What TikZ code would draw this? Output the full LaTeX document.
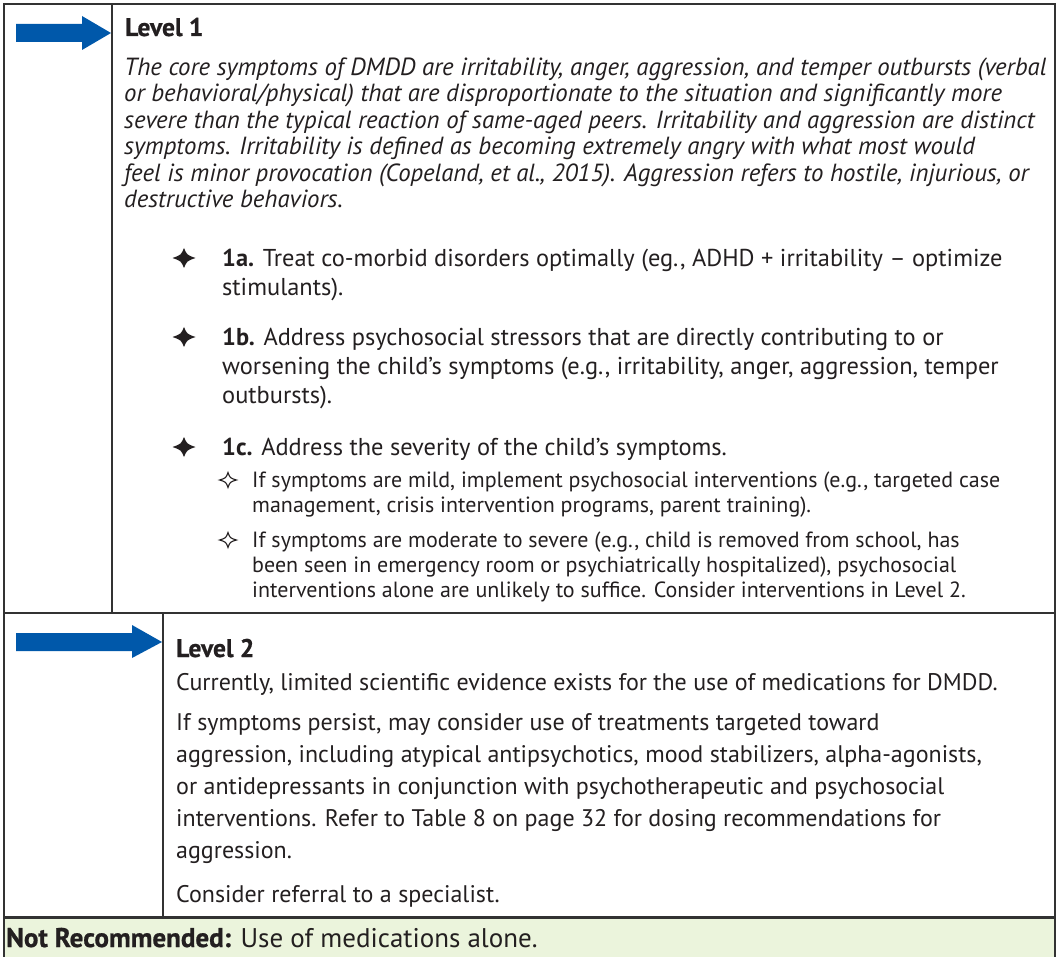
\documentclass[tikz,border=0pt]{standalone}
\usepackage{fontspec}
\setmainfont{PT Sans}
\newfontfamily\heavy[FakeBold=0.8]{PT Sans}
\definecolor{arrowblue}{RGB}{0,88,170}
\definecolor{notrec}{RGB}{235,244,220}
\definecolor{rulecol}{RGB}{50,50,50}
\definecolor{ink}{RGB}{35,31,32}
\begin{document}
\begin{tikzpicture}[x=1pt,y=-1pt,
  frame/.style={draw=rulecol,line width=1.8pt},
  heading/.style={anchor=base west,inner sep=0pt,text=ink,font=\heavy\bfseries\fontsize{25.5}{30}\selectfont},
  italic/.style={anchor=north west,inner sep=0pt,align=left,text=ink,yshift=18.55pt,font=\itshape\fontsize{24.8}{26.5}\selectfont},
  body/.style={anchor=north west,inner sep=0pt,align=left,text=ink,yshift=20.3pt,font=\fontsize{24.4}{29}\selectfont},
  body2/.style={anchor=north west,inner sep=0pt,align=left,text=ink,yshift=22.4pt,font=\fontsize{24}{32}\selectfont},
  small/.style={anchor=north west,inner sep=0pt,align=left,text=ink,yshift=17.5pt,font=\fontsize{22}{25}\selectfont},
  bluearrow/.style={fill=arrowblue,draw=none},
  bstar/.pic={\fill[ink] (0,-10) .. controls (3,-3) .. (11.5,0) .. controls (3,3) .. (0,10) .. controls (-3,3) .. (-11.5,0) .. controls (-3,-3) .. cycle;},
  wstar/.pic={\draw[ink,line width=1.1pt,line join=miter] (0,-7.5) .. controls (2,-2) .. (8.5,0) .. controls (2,2) .. (0,7.5) .. controls (-2,2) .. (-8.5,0) .. controls (-2,-2) .. cycle;}]
\useasboundingbox (0,0) rectangle (1057,957);
% green band
\fill[notrec] (4,918) rectangle (1055,957);
% frame
\coordinate (tl) at (4,4);
\coordinate (tr) at (1055,4);
\coordinate (bl) at (4,957);
\coordinate (br) at (1055,957);
\draw[frame] (bl) -- (tl) -- (tr) -- (br);
\draw[frame] (112,4) -- (112,613);
\draw[frame] (4,613) -- (1055,613);
\draw[frame] (163,613) -- (163,917);
\draw[draw=rulecol,line width=3pt] (4,917) -- (1055,917);
% arrows
\fill[bluearrow] (16,24) -- (82,24) -- (82,16) -- (111,33) -- (82,50) -- (82,42) -- (16,42) -- cycle;
\fill[bluearrow] (16,633) -- (132,633) -- (132,625) -- (162,642) -- (132,658) -- (132,651) -- (16,651) -- cycle;
% Level 1
\node[heading] (l1) at (125,36) {Level 1};
\node[italic] (l1txt) at (124,75) {\strut The core symptoms of DMDD are irritability, anger, aggression, and temper outbursts (verbal\\
or behavioral/physical) that are disproportionate to the situation and significantly more\\
severe than the typical reaction of same-aged peers. Irritability and aggression are distinct\\
symptoms. Irritability is defined as becoming extremely angry with what most would\\
feel is minor provocation (Copeland, et al., 2015). Aggression refers to hostile, injurious, or\\
destructive behaviors.};
\pic at (184,258) {bstar};
\node[body] (b1a) at (222,266) {\strut\textbf{1a.} Treat co-morbid disorders optimally (eg., ADHD + irritability – optimize\\
stimulants).};
\pic at (184,337) {bstar};
\node[body] (b1b) at (222,345) {\strut\textbf{1b.} Address psychosocial stressors that are directly contributing to or\\
worsening the child’s symptoms (e.g., irritability, anger, aggression, temper\\
outbursts).};
\pic at (184,447) {bstar};
\node[body] (b1c) at (222,455) {\strut\textbf{1c.} Address the severity of the child’s symptoms.};
\pic at (228,480) {wstar};
\node[small] (sub1) at (252,487) {\strut If symptoms are mild, implement psychosocial interventions (e.g., targeted case\\
management, crisis intervention programs, parent training).};
\pic at (228,540) {wstar};
\node[small] (sub2) at (252,547) {\strut If symptoms are moderate to severe (e.g., child is removed from school, has\\
been seen in emergency room or psychiatrically hospitalized), psychosocial\\
interventions alone are unlikely to suffice. Consider interventions in Level 2.};
% Level 2
\node[heading] (l2) at (176,657) {Level 2};
\node[body2] (l2a) at (176,690) {\strut Currently, limited scientific evidence exists for the use of medications for DMDD.};
\node[body2] (l2b) at (176,730) {\strut If symptoms persist, may consider use of treatments targeted toward\\
aggression, including atypical antipsychotics, mood stabilizers, alpha-agonists,\\
or antidepressants in conjunction with psychotherapeutic and psychosocial\\
interventions. Refer to Table 8 on page 32 for dosing recommendations for\\
aggression.};
\node[body2] (l2c) at (176,902) {\strut Consider referral to a specialist.};
% Not recommended
\node[anchor=base west,inner sep=0pt,text=ink,font=\fontsize{27}{30}\selectfont] (nr) at (6,947) {{\heavy\bfseries Not Recommended:} Use of medications alone.};
\end{tikzpicture}
\end{document}
